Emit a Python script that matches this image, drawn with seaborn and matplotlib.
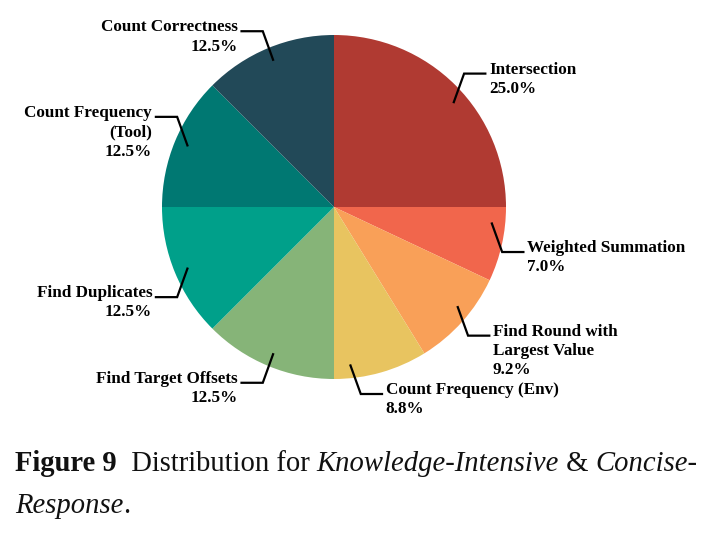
import numpy as np
import matplotlib
matplotlib.use("Agg")
import matplotlib.pyplot as plt
import seaborn as sns

labels = ["Intersection", "Weighted Summation", "Find Round with\nLargest Value",
          "Count Frequency (Env)", "Find Target Offsets", "Find Duplicates",
          "Count Frequency\n(Tool)", "Count Correctness"]
shares = [25.0, 7.0, 9.2, 8.8, 12.5, 12.5, 12.5, 12.5]
colors = ["#B03A32", "#F1664C", "#F9A058", "#E8C460",
          "#86B478", "#00A08A", "#007872", "#224958"]

# small angle nudges (degrees) for leader lines, to mimic the original layout
nudge = {0: -4, 1: 7, 2: 3, 3: -10}

sns.set_theme(style="white")
plt.rcParams["font.family"] = ["Liberation Serif", "DejaVu Serif"]

W, H = 713, 541
R = 172.0
cx, cy = 334, 207

fig = plt.figure(figsize=(W / 100, H / 100), dpi=100)
ax = fig.add_axes([0, 0, 1, 1])

wedges, _ = ax.pie(shares, colors=sns.color_palette(colors), startangle=90,
                   counterclock=False, radius=1.0, center=(0, 0),
                   wedgeprops=dict(linewidth=0), frame=True)
ax.set_xlim(-cx / R, (W - cx) / R)
ax.set_ylim(-(H - cy) / R, cy / R)
ax.set_aspect("auto")
ax.axis("off")

for i, (w, lab, val) in enumerate(zip(wedges, labels, shares)):
    ang = np.deg2rad((w.theta1 + w.theta2) / 2 + nudge.get(i, 0))
    x0, y0 = 0.92 * np.cos(ang), 0.92 * np.sin(ang)
    side = 1 if np.cos(ang) >= 0 else -1
    up = 1 if np.sin(ang) >= 0 else -1
    x1, y1 = x0 + side * 0.062, y0 + up * 0.172
    x2 = x1 + side * 0.13
    ax.plot([x0, x1, x2], [y0, y1, y1], color="black", lw=1.6,
            solid_capstyle="butt", solid_joinstyle="miter")
    ax.text(x2 + side * 0.015, y1 + 0.07, f"{lab}\n{val:.1f}%",
            ha="left" if side > 0 else "right", va="top",
            multialignment="left" if side > 0 else "right",
            fontsize=12.3, fontweight="bold", color="black", linespacing=1.28)

# caption, placed piece by piece
fig.canvas.draw()
renderer = fig.canvas.get_renderer()
fs = 20.6
pieces = [("Figure 9", "bold", "normal"), ("  Distribution for ", "normal", "normal"),
          ("Knowledge-Intensive", "normal", "italic"), (" & ", "normal", "normal"),
          ("Concise-", "normal", "italic")]
x = 15
y = H - 471
for txt, wt, st in pieces:
    t = fig.text(x / W, y / H, txt, fontsize=fs, fontweight=wt, fontstyle=st,
                 ha="left", va="baseline", color="#111111")
    x = t.get_window_extent(renderer).x1
t = fig.text(15 / W, (H - 513) / H, "Response", fontsize=fs, fontstyle="italic",
             ha="left", va="baseline", color="#111111")
bb = t.get_window_extent(renderer)
fig.text(bb.x1 / W, (H - 513) / H, ".", fontsize=fs, ha="left", va="baseline",
         color="#111111")

fig.savefig("out.png", dpi=100)
